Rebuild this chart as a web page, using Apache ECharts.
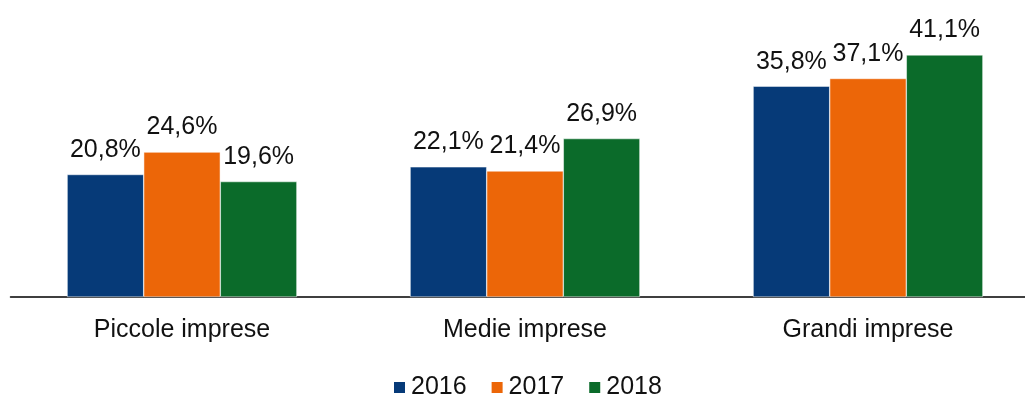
<!DOCTYPE html>
<html><head><meta charset="utf-8">
<script src="https://cdn.jsdelivr.net/npm/echarts@6/dist/echarts.min.js"></script>
<style>html,body{margin:0;padding:0;background:#fff}#c{width:1025px;height:399px}</style>
</head><body><div id="c"></div>
<script>
const categories = ['Piccole imprese', 'Medie imprese', 'Grandi imprese'];
const years = ['2016', '2017', '2018'];
const v2016 = [20.8, 22.1, 35.8];
const v2017 = [24.6, 21.4, 37.1];
const v2018 = [19.6, 26.9, 41.1];
const colors = ['#063A78', '#EC6608', '#0B6B2A'];
const seriesData = [v2016, v2017, v2018];
const font = 'Liberation Sans, Arial, sans-serif';
const chart = echarts.init(document.getElementById('c'));
chart.setOption({
  animation: false,
  textStyle: { fontFamily: font },
  grid: { left: 10.5, right: -14.5, top: 2.5, bottom: 102, containLabel: false, outerBoundsMode: 'none' },
  legend: {
    bottom: -6, left: 387, itemWidth: 13, itemHeight: 13, itemGap: 23,
    icon: 'rect',
    textStyle: { fontSize: 25, color: '#111', fontFamily: font },
    data: years
  },
  xAxis: {
    type: 'category', data: categories,
    axisLine: { lineStyle: { color: '#000', width: 1.5 } },
    axisTick: { show: false },
    axisLabel: { fontSize: 25, color: '#111', margin: 21, fontFamily: font }
  },
  yAxis: { type: 'value', min: 0, max: 50, show: false, splitLine: { show: false } },
  series: years.map((y, i) => ({
    name: y, type: 'bar', data: seriesData[i],
    barGap: '0%', barCategoryGap: '33%',
    itemStyle: { color: colors[i], borderColor: '#fff', borderWidth: 0.5 },
    label: {
      show: true, position: 'top', distance: 12, fontSize: 25, color: '#111', fontFamily: font,
      formatter: p => p.value.toFixed(1).replace('.', ',') + '%'
    }
  }))
});
</script></body></html>
